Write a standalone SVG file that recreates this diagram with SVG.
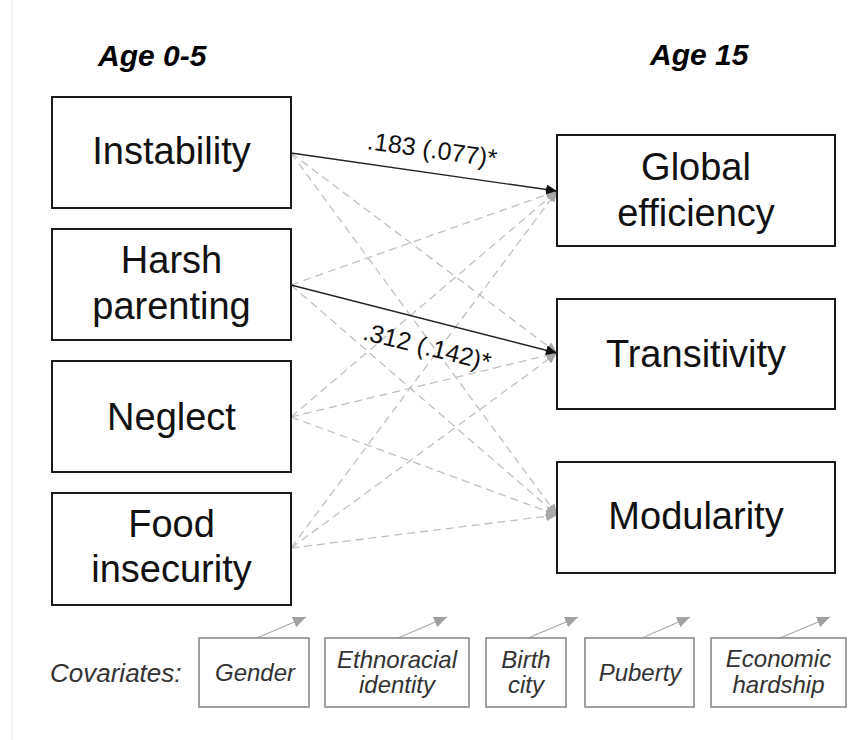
<svg xmlns="http://www.w3.org/2000/svg" width="868" height="740" viewBox="0 0 868 740">
  <style>
    .box { fill: #fff; stroke: #1a1a1a; stroke-width: 2; }
    .cov { fill: #fff; stroke: #8a8a8a; stroke-width: 1.6; }
    .lbl { font-family: "Liberation Sans", Arial, sans-serif; font-size: 38px; fill: #111; text-anchor: middle; }
    .covt { font-family: "Liberation Sans", Arial, sans-serif; font-size: 24px; font-style: italic; fill: #333; text-anchor: middle; }
    .head { font-family: "Liberation Sans", Arial, sans-serif; font-size: 30px; font-weight: bold; font-style: italic; fill: #000; }
    .coef { font-family: "Liberation Sans", Arial, sans-serif; font-size: 25px; fill: #111; text-anchor: middle; }
    .sig { fill: none; stroke: #222; stroke-width: 1.3; }
    .ns { fill: none; stroke: #c0c0c0; stroke-width: 1.3; stroke-dasharray: 8 5; }
    .covline { fill: none; stroke: #aaa; stroke-width: 1.3; }
  </style>
  <defs>
    <marker id="ahBlack" markerUnits="userSpaceOnUse" markerWidth="11" markerHeight="10" refX="11" refY="5" orient="auto">
      <path d="M0,0 L11,5 L0,10 z" fill="#111"/>
    </marker>
    <marker id="ahGray" markerUnits="userSpaceOnUse" markerWidth="11" markerHeight="10" refX="11" refY="5" orient="auto">
      <path d="M0,0 L11,5 L0,10 z" fill="#a8a8a8"/>
    </marker>
    <marker id="ahCov" markerUnits="userSpaceOnUse" markerWidth="13" markerHeight="11" refX="13" refY="5.5" orient="auto">
      <path d="M0,0 L13,5.5 L0,11 z" fill="#a0a0a0"/>
    </marker>
  </defs>

  <rect width="868" height="740" fill="#fff"/>
  <line x1="12" y1="0" x2="12" y2="740" stroke="#ececec" stroke-width="1"/>

  <!-- column headings -->
  <text class="head" x="98" y="66">Age 0-5</text>
  <text class="head" x="650" y="65">Age 15</text>

  <!-- paths between exposures and network outcomes -->
  <g id="connectors">
    <!-- non-significant paths -->
    <line class="ns" x1="291" y1="153" x2="557" y2="353" marker-end="url(#ahGray)"/>
    <line class="ns" x1="291" y1="153" x2="557" y2="515" marker-end="url(#ahGray)"/>
    <line class="ns" x1="291" y1="285" x2="557" y2="191" marker-end="url(#ahGray)"/>
    <line class="ns" x1="291" y1="285" x2="557" y2="515" marker-end="url(#ahGray)"/>
    <line class="ns" x1="291" y1="417" x2="557" y2="191" marker-end="url(#ahGray)"/>
    <line class="ns" x1="291" y1="417" x2="557" y2="353" marker-end="url(#ahGray)"/>
    <line class="ns" x1="291" y1="417" x2="557" y2="515" marker-end="url(#ahGray)"/>
    <line class="ns" x1="291" y1="548" x2="557" y2="191" marker-end="url(#ahGray)"/>
    <line class="ns" x1="291" y1="548" x2="557" y2="353" marker-end="url(#ahGray)"/>
    <line class="ns" x1="291" y1="548" x2="557" y2="515" marker-end="url(#ahGray)"/>
    <!-- significant paths -->
    <line class="sig" x1="291" y1="153" x2="557" y2="191" marker-end="url(#ahBlack)"/>
    <line class="sig" x1="291" y1="285" x2="557" y2="353" marker-end="url(#ahBlack)"/>
    <text class="coef" transform="translate(431 158) rotate(8)">.183 (.077)*</text>
    <text class="coef" transform="translate(425 355) rotate(14)">.312 (.142)*</text>
    <!-- covariate arrows -->
    <line class="covline" x1="257" y1="638" x2="306" y2="617" marker-end="url(#ahCov)"/>
    <line class="covline" x1="398" y1="638" x2="447" y2="617" marker-end="url(#ahCov)"/>
    <line class="covline" x1="528" y1="638" x2="578" y2="617" marker-end="url(#ahCov)"/>
    <line class="covline" x1="642" y1="638" x2="690" y2="617" marker-end="url(#ahCov)"/>
    <line class="covline" x1="780" y1="638" x2="830" y2="617" marker-end="url(#ahCov)"/>
  </g>

  <!-- exposures, age 0-5 -->
  <g id="instability">
    <rect class="box" x="52" y="97" width="239" height="111"/>
    <text class="lbl" x="171.5" y="164">Instability</text>
  </g>
  <g id="harsh-parenting">
    <rect class="box" x="52" y="229" width="239" height="111"/>
    <text class="lbl" x="171.5" y="273">Harsh</text>
    <text class="lbl" x="171.5" y="319">parenting</text>
  </g>
  <g id="neglect">
    <rect class="box" x="52" y="361" width="239" height="111"/>
    <text class="lbl" x="171.5" y="430">Neglect</text>
  </g>
  <g id="food-insecurity">
    <rect class="box" x="52" y="493" width="239" height="112"/>
    <text class="lbl" x="171.5" y="537">Food</text>
    <text class="lbl" x="171.5" y="582">insecurity</text>
  </g>

  <!-- outcomes, age 15 -->
  <g id="global-efficiency">
    <rect class="box" x="557" y="135" width="278" height="111"/>
    <text class="lbl" x="696" y="180">Global</text>
    <text class="lbl" x="696" y="226">efficiency</text>
  </g>
  <g id="transitivity">
    <rect class="box" x="557" y="299" width="278" height="110"/>
    <text class="lbl" x="696" y="367">Transitivity</text>
  </g>
  <g id="modularity">
    <rect class="box" x="557" y="462" width="278" height="111"/>
    <text class="lbl" x="696" y="529">Modularity</text>
  </g>

  <!-- covariates -->
  <text class="covt" x="50" y="682" style="font-size:26px;text-anchor:start">Covariates:</text>
  <g id="gender">
    <rect class="cov" x="199" y="638" width="110" height="69"/>
    <text class="covt" x="255" y="681">Gender</text>
  </g>
  <g id="ethnoracial-identity">
    <rect class="cov" x="325" y="638" width="144" height="69"/>
    <text class="covt" x="397" y="668">Ethnoracial</text>
    <text class="covt" x="397" y="693">identity</text>
  </g>
  <g id="birth-city">
    <rect class="cov" x="486" y="638" width="80" height="69"/>
    <text class="covt" x="526" y="668">Birth</text>
    <text class="covt" x="526" y="693">city</text>
  </g>
  <g id="puberty">
    <rect class="cov" x="585" y="638" width="109" height="69"/>
    <text class="covt" x="640" y="681">Puberty</text>
  </g>
  <g id="economic-hardship">
    <rect class="cov" x="711" y="638" width="135" height="69"/>
    <text class="covt" x="778.5" y="667">Economic</text>
    <text class="covt" x="778.5" y="693">hardship</text>
  </g>
</svg>
